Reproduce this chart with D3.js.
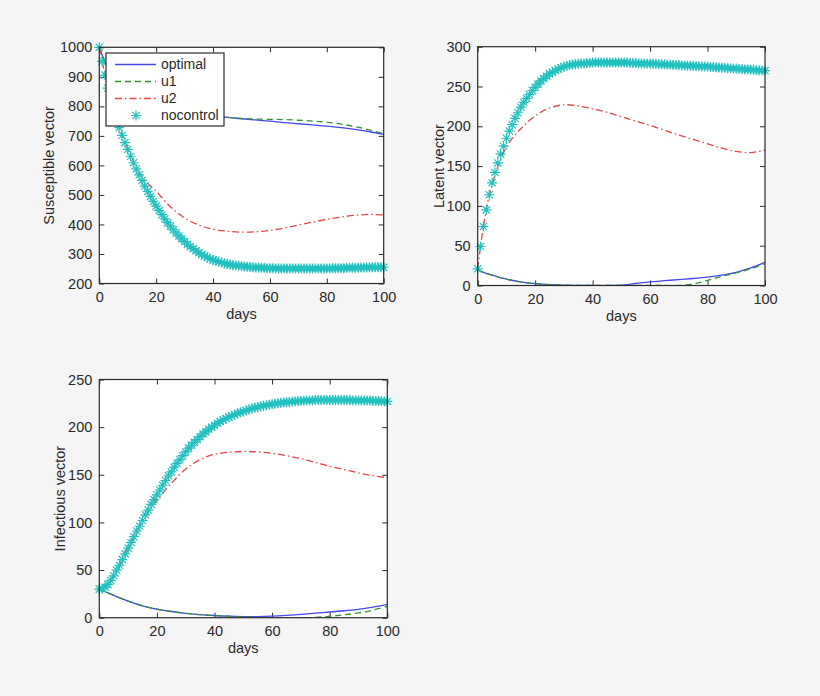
<!DOCTYPE html>
<html>
<head>
<meta charset="utf-8">
<script src="https://cdn.jsdelivr.net/npm/d3@7"></script>
<style>
  body { margin: 0; background: #f5f5f5; }
  svg { display: block; font-family: "Liberation Sans", Arial, sans-serif; }
</style>
</head>
<body>
<svg id="chart"></svg>
<script>
// sample days for the solid / dashed curves
let lineDays = [0, 2, 5, 10, 15, 20, 25, 30, 35, 40, 45, 50, 55, 60, 65, 70, 75, 80, 85, 90, 95, 100]
// nocontrol is plotted with a marker on every day
let markerDays = d3.range(0, 101)

let xTicks = [0, 20, 40, 60, 80, 100]
let seriesNames = ['optimal', 'u1', 'u2', 'nocontrol']

// Susceptible vector
let susOptimal = [1000, 950, 890, 835, 805, 790, 781, 775, 771, 767, 763, 758, 754, 750, 745, 741, 737, 733, 728, 722, 714, 705]
let susU1 = [1000, 950, 890, 835, 805, 790, 781, 775, 771, 767, 763, 759, 757, 756, 755, 753, 750, 746, 740, 731, 720, 708]
let susU2 = [1000, 907, 790, 658, 562, 512, 460, 422, 398, 384, 377, 374, 375, 380, 388, 398, 408, 417, 425, 431, 434, 432]
let susNoControl = [1000, 952, 906, 862, 822, 786, 755, 728, 702, 677, 654, 631, 609, 588, 568, 549, 530, 512, 495, 478,
  462, 447, 433, 419, 406, 394, 382, 371, 361, 351, 342, 333, 325, 318, 311, 304, 298, 293, 288, 284,
  280, 277, 274, 271, 268, 266, 264, 262, 261, 260, 259, 258, 257, 256, 255, 254, 254, 253, 253, 252,
  252, 252, 251, 251, 251, 251, 251, 251, 251, 251, 251, 251, 251, 251, 251, 251, 251, 251, 251, 251,
  251, 251, 252, 252, 252, 252, 252, 253, 253, 253, 253, 253, 254, 254, 254, 254, 255, 255, 255, 255, 255]
let susTicks = [200, 300, 400, 500, 600, 700, 800, 900, 1000]

// Latent vector
let latOptimal = [20, 16.5, 13, 8, 4.5, 2.3, 1, 0.4, 0.1, 0, 0, 0.5, 2.5, 4.5, 6, 7.5, 8.8, 10.5, 13, 16.5, 22, 29]
let latU1 = [20, 16.5, 13, 8, 4.5, 2.3, 1, 0.4, 0.1, 0, 0, 0, 0, 0, 0, 0, 2, 6.5, 11.5, 16, 21, 27.5]
let latU2 = [21, 74, 127, 174, 197, 213, 223, 227, 225.5, 222, 217.5, 212, 206.5, 201, 195, 189, 183.5, 178, 172.5, 168.5, 167, 170]
let latNoControl = [21, 49, 74, 95, 114, 129, 142, 154, 165, 175, 185, 194, 202, 210, 217, 224, 230, 235, 240, 245,
  249, 253, 257, 260, 263, 266, 268, 270, 272, 273.5, 275, 276, 277, 277.5, 278, 278.5, 279, 279, 279.5, 279.5,
  280, 280, 280, 280, 280, 280, 280, 280, 280, 280, 280, 280, 280, 279.5, 279.5, 279.5, 279, 279, 279, 279,
  278.5, 278.5, 278.5, 278, 278, 278, 277.5, 277.5, 277, 277, 277, 276.5, 276.5, 276, 276, 276, 275.5, 275.5, 275, 275,
  275, 274.5, 274.5, 274, 274, 273.5, 273.5, 273, 273, 272.5, 272.5, 272, 272, 271.5, 271.5, 271, 271, 270.5, 270.5, 270, 270]
let latTicks = [0, 50, 100, 150, 200, 250, 300]

// Infectious vector
let infOptimal = [30, 27.5, 23.5, 17.5, 12.5, 9, 6.5, 4.5, 3.2, 2.3, 1.6, 1.2, 1.2, 1.7, 2.5, 3.5, 4.8, 6, 7.3, 8.7, 11, 14]
let infU1 = [30, 27.5, 23.5, 17.5, 12.5, 9, 6.5, 4.5, 3.2, 2.3, 1.6, 0.8, 0.3, 0, 0, 0, 0.3, 1.5, 3, 5, 8, 12]
let infU2 = [30, 32, 44, 73, 101, 123, 141, 156, 166, 171.5, 173.5, 174.5, 174, 172.5, 170, 167, 163, 159, 155.5, 152, 149, 147]
let infNoControl = [30, 30.5, 32, 35, 39, 44, 50, 55, 61, 67, 73, 79, 85, 91, 96, 102, 108, 113, 119, 124,
  129, 134, 139, 144, 149, 153, 158, 162, 166, 170, 174, 178, 181, 184, 187, 190, 193, 195, 198, 200,
  202, 204, 206, 207.5, 209, 210.5, 212, 213, 214.5, 215.5, 216.5, 217.5, 218.5, 219.5, 220.5, 221, 222, 222.5, 223, 223.5,
  224, 224.5, 225, 225.5, 226, 226, 226.5, 227, 227, 227.5, 227.5, 228, 228, 228, 228, 228.5, 228.5, 228.5, 228.5, 228.5,
  228.5, 228.5, 228.5, 228.5, 228.5, 228.5, 228.5, 228.5, 228, 228, 228, 228, 228, 228, 228, 227.5, 227.5, 227.5, 227.5, 227, 227]
let infTicks = [0, 50, 100, 150, 200, 250]

let width = 820
let height = 696

let colors = { optimal: '#4646ee', u1: '#2f922f', u2: '#e64646', nocontrol: '#22c0c0' }
let dashes = { optimal: null, u1: '6,4', u2: '7,3,1.5,3' }
let textColor = '#2a2a2a'

let svg = d3.select('#chart').attr('width', width).attr('height', height)

svg.append('rect').attr('width', width).attr('height', height).attr('fill', '#f5f5f5')

let panels = [
  { id: 'sus', box: [99.3, 47.3, 383.7, 283.5], domain: [200, 1000], ticks: susTicks, label: 'Susceptible vector', labelX: 49,
    lines: [susOptimal, susU1, susU2], marks: susNoControl, legend: true },
  { id: 'lat', box: [477.7, 46.7, 765, 285.5], domain: [0, 300], ticks: latTicks, label: 'Latent vector', labelX: 439,
    lines: [latOptimal, latU1, latU2], marks: latNoControl, legend: false },
  { id: 'inf', box: [99.3, 379.5, 387.3, 617.7], domain: [0, 250], ticks: infTicks, label: 'Infectious vector', labelX: 60,
    lines: [infOptimal, infU1, infU2], marks: infNoControl, legend: false }
]

function asterisk(s){
  let d = s * 0.72
  return 'M' + (-s) + ',0L' + s + ',0M0,' + (-s) + 'L0,' + s +
    'M' + (-d) + ',' + (-d) + 'L' + d + ',' + d + 'M' + (-d) + ',' + d + 'L' + d + ',' + (-d)
}

function drawPanel(p){
  let [x0, y0, x1, y1] = p.box
  let xScale = d3.scaleLinear().domain([0, 100]).range([x0, x1])
  let yScale = d3.scaleLinear().domain(p.domain).range([y1, y0])
  let g = svg.append('g').attr('id', p.id)

  g.append('rect').attr('x', x0).attr('y', y0).attr('width', x1 - x0).attr('height', y1 - y0).attr('fill', '#fff')

  g.append('clipPath').attr('id', 'clip-' + p.id)
    .append('rect').attr('x', x0).attr('y', y0).attr('width', x1 - x0).attr('height', y1 - y0)

  // axes: tick marks inward on all four sides
  let tl = 5
  let fmt = d3.format('d')
  let xAxis = d3.axisBottom(xScale).tickValues(xTicks).tickFormat(fmt).tickSize(-tl).tickPadding(8).tickSizeOuter(0)
  let xTop = d3.axisTop(xScale).tickValues(xTicks).tickSize(-tl).tickFormat('').tickSizeOuter(0)
  let yAxis = d3.axisLeft(yScale).tickValues(p.ticks).tickFormat(fmt).tickSize(-tl).tickPadding(7).tickSizeOuter(0)
  let yRight = d3.axisRight(yScale).tickValues(p.ticks).tickSize(-tl).tickFormat('').tickSizeOuter(0)

  let axes = [
    g.append('g').attr('transform', 'translate(0,' + y1 + ')').call(xAxis),
    g.append('g').attr('transform', 'translate(0,' + y0 + ')').call(xTop),
    g.append('g').attr('transform', 'translate(' + x0 + ',0)').call(yAxis),
    g.append('g').attr('transform', 'translate(' + x1 + ',0)').call(yRight)
  ]
  axes.forEach(function(a){
    a.select('.domain').remove()
    a.attr('font-size', 14.5).attr('font-family', '"Liberation Sans", Arial, sans-serif')
    a.selectAll('line').attr('stroke', textColor).attr('stroke-width', 1)
    a.selectAll('text').attr('fill', textColor)
  })

  let line = d3.line().x(function(d, i){ return xScale(lineDays[i]) }).y(function(d){ return yScale(d) })
    .curve(d3.curveCatmullRom.alpha(0.5))

  p.lines.forEach(function(vals, k){
    let name = seriesNames[k]
    g.append('path').datum(vals).attr('d', line)
      .attr('clip-path', 'url(#clip-' + p.id + ')')
      .attr('fill', 'none').attr('stroke', colors[name]).attr('stroke-width', 1.3)
      .attr('stroke-dasharray', dashes[name])
  })

  g.selectAll('path.mark').data(p.marks).enter().append('path').attr('class', 'mark')
    .attr('transform', function(d, i){ return 'translate(' + xScale(markerDays[i]) + ',' + yScale(d) + ')' })
    .attr('d', asterisk(5))
    .attr('fill', 'none').attr('stroke', colors.nocontrol).attr('stroke-width', 1.2)

  g.append('rect').attr('x', x0).attr('y', y0).attr('width', x1 - x0).attr('height', y1 - y0)
    .attr('fill', 'none').attr('stroke', textColor).attr('stroke-width', 1.2)

  g.append('text').attr('x', (x0 + x1) / 2).attr('y', y1 + 35)
    .attr('text-anchor', 'middle').attr('font-size', 14.5).attr('fill', textColor).text('days')

  g.append('text').attr('transform', 'translate(' + p.labelX + ',' + ((y0 + y1) / 2) + ') rotate(-90)')
    .attr('text-anchor', 'middle').attr('dy', '0.35em').attr('font-size', 14.5).attr('fill', textColor).text(p.label)

  if (p.legend) drawLegend(g)
}

function drawLegend(g){
  let lx = 106, ly = 53, lw = 118, lh = 73
  let lg = g.append('g')
  lg.append('rect').attr('x', lx).attr('y', ly).attr('width', lw).attr('height', lh)
    .attr('fill', '#fff').attr('stroke', textColor).attr('stroke-width', 1.2)
  let rowY = [64.5, 81.5, 98.5, 115.5]
  seriesNames.forEach(function(name, i){
    if (name === 'nocontrol') {
      lg.append('path').attr('transform', 'translate(136,' + rowY[i] + ')').attr('d', asterisk(5))
        .attr('fill', 'none').attr('stroke', colors[name]).attr('stroke-width', 1.2)
    } else {
      lg.append('line').attr('x1', 115).attr('x2', 156).attr('y1', rowY[i]).attr('y2', rowY[i])
        .attr('stroke', colors[name]).attr('stroke-width', 1.3).attr('stroke-dasharray', dashes[name])
    }
    lg.append('text').attr('x', 161).attr('y', rowY[i]).attr('dy', '0.35em')
      .attr('font-size', 14).attr('fill', textColor).text(name)
  })
}

panels.forEach(drawPanel)
</script>
</body>
</html>
